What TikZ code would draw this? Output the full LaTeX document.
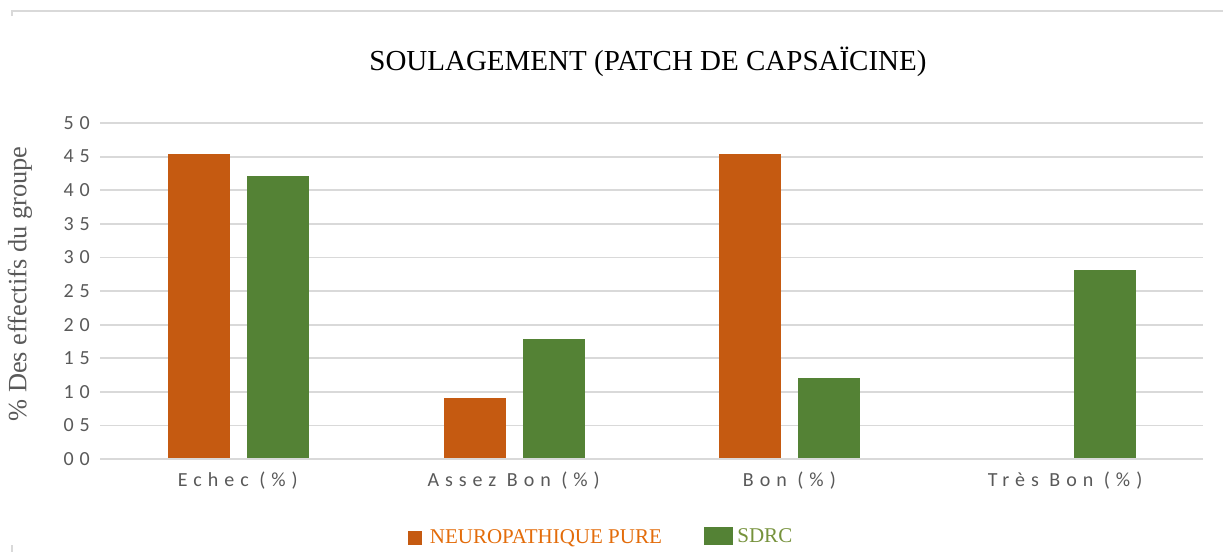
\documentclass[tikz,border=0pt]{standalone}
\usepackage{fontspec}
\setmainfont{Liberation Serif}
\newfontfamily\carl{Carlito}[LetterSpace=30]
\usetikzlibrary{positioning}
\definecolor{neuro}{HTML}{C55A11}
\definecolor{sdrc}{HTML}{548235}
\definecolor{neurotxt}{HTML}{E36C0A}
\definecolor{sdrctxt}{HTML}{76923C}
\definecolor{grille}{HTML}{D9D9D9}
\definecolor{gristxt}{HTML}{595959}

\begin{document}
\begin{tikzpicture}[x=1pt,y=-1pt]
 \tikzset{grid line/.style={draw=grille, line width=1.8pt}, }
 \tikzset{tick label/.style={anchor=east, text=gristxt, inner sep=0pt,
 		font=\carl\fontsize{20}{20}\selectfont}, }
 \tikzset{cat label/.style={text=gristxt, inner sep=0pt,
 		font=\carl\fontsize{20}{20}\selectfont}, }
 \tikzset{legend text/.style={anchor=west, inner sep=0pt,
 		font=\fontsize{21}{21}\selectfont}, }
 \tikzset{swatch/.style={inner sep=0pt, minimum height=14pt}, }
 \useasboundingbox (0,0) rectangle (1223,557);
 % cadre
 \draw[grille, line width=1.5pt] (12,16) -- (12,11) -- (1223,11);
 \draw[grille, line width=1.5pt] (12,545) -- (12,552);
 % titre
 \node[font=\fontsize{29}{29}\selectfont] (titre) at (648,62)
 	{SOULAGEMENT (PATCH DE CAPSAÏCINE)};
 \node[rotate=90, text=gristxt, font=\fontsize{26.4}{26.4}\selectfont] (ylabel)
 	at (20,284) {\% Des effectifs du groupe};
 % grille et graduations
 \foreach \v/\t in {0/00,1/05,2/10,3/15,4/20,5/25,6/30,7/35,8/40,9/45,10/50}{
 	\draw[grid line] (100,459-\v*33.6) -- (1203,459-\v*33.6);
 	\node[tick label] (tick\v) at (90,459-\v*33.6) {\t};
 }
 % barres
 \foreach \c/\a/\b/\nom in {0/45.45/42.1/Echec (\%),1/9.09/17.9/Assez Bon (\%),
 		2/45.45/12/Bon (\%),3/0/28.1/Très Bon (\%)}{
 	\pgfmathsetmacro{\xc}{237.9+275.75*\c}
 	\fill[neuro] (\xc-70,459) rectangle (\xc-8,459-\a*6.72);
 	\fill[sdrc] (\xc+9,459) rectangle (\xc+71,459-\b*6.72);
 	\node[cat label] (cat\c) at (\xc,481) {\nom};
 }
 \draw[grid line] (100,459) -- (1203,459);
 % legende
 \node[swatch, fill=neuro, minimum width=14pt] (sw1) at (414.5,538) {};
 \node[legend text, text=neurotxt] (leg1) [right=8pt of sw1] {NEUROPATHIQUE PURE};
 \node[swatch, fill=sdrc, minimum width=29pt, minimum height=18pt] (sw2) at (718.5,536) {};
 \node[legend text, text=sdrctxt] (leg2) [right=4pt of sw2] {SDRC};
\end{tikzpicture}
\end{document}
